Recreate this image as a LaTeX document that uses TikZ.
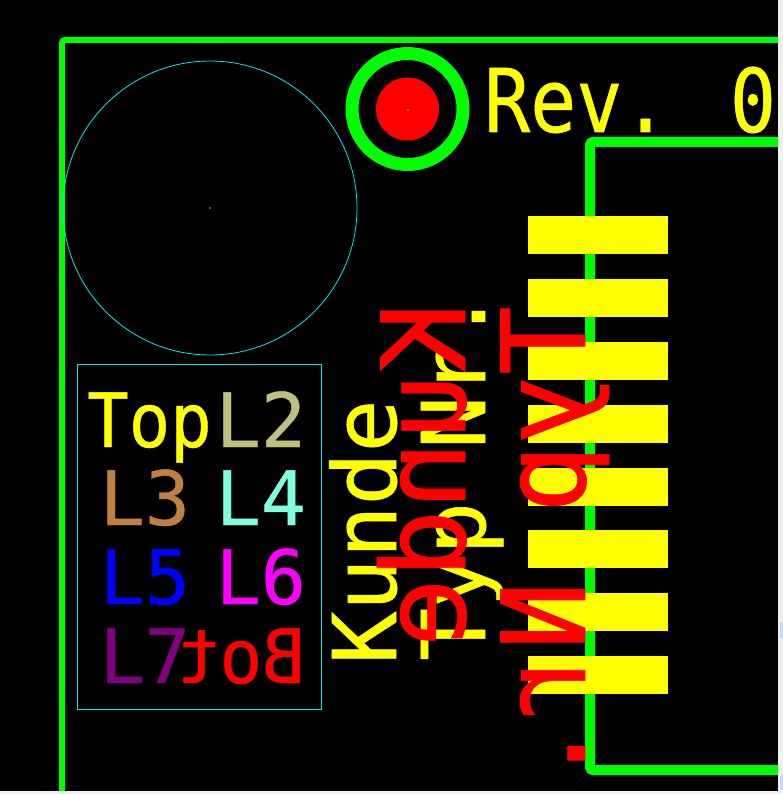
\documentclass[tikz,border=0pt]{standalone}
\usepackage{fontspec}
\newfontfamily\pcbfont{DejaVu Sans Mono}[FakeBold=0.6]
\definecolor{pcbyellow}{RGB}{255,255,0}
\definecolor{pcbgreen}{RGB}{0,255,0}
\definecolor{pcbred}{RGB}{255,0,0}
\definecolor{pcbblue}{RGB}{0,0,255}
\definecolor{pcbmagenta}{RGB}{255,0,255}
\definecolor{layertan}{HTML}{C0C080}
\definecolor{layerbrown}{HTML}{C08040}
\definecolor{layeraqua}{HTML}{80FFE0}
\definecolor{layerpurple}{HTML}{800080}
\definecolor{pcbcyan}{HTML}{00E8F0}
\definecolor{pagegrey}{HTML}{F2F0EA}
\definecolor{barblue}{HTML}{C8D8F8}
\tikzset{
  pcbtext/.style={inner sep=0pt, anchor=base west, font=\pcbfont\fontsize{88}{88}\selectfont},
  layertext/.style={inner sep=0pt, anchor=base west, font=\pcbfont\fontsize{75}{75}\selectfont},
  bottomtext/.style={inner sep=0pt, anchor=base west, text=pcbred, rotate=-90, yscale=-1, xscale=0.985, font=\pcbfont\fontsize{116}{116}\selectfont},
  outline/.style={draw=pcbgreen, line width=#1, rounded corners=3pt},
  padrect/.style={fill=pcbyellow}
}
\begin{document}
\begin{tikzpicture}[x=1pt,y=-1pt]
  \useasboundingbox (0,0) rectangle (783,794);
  \fill[pagegrey] (0,0) rectangle (783,794);
  \fill[black] (0,0) rectangle (778,791);
  \fill[barblue] (780,622) rectangle (783,638);
  \fill[barblue] (780,775) rectangle (783,790);
  % board and connector outline
  \draw[outline=6pt] (778,40) -- (62,40) -- (62,791);
  \draw[outline=10pt] (778,142) -- (590,142) -- (590,770) -- (778,770);
  % mounting hole and drill circle
  \draw[pcbcyan, line width=0.8pt] (210,208) circle [radius=147];
  \fill[pcbcyan] (210,208) circle [radius=0.8];
  \draw[pcbgreen, line width=13pt] (407.5,109) circle [radius=55.5];
  \fill[pcbred] (407.5,109) circle [radius=31.5];
  \fill[pcbcyan] (408,110) circle [radius=0.8];
  % pads
  \foreach \padtop in {216,279,342,405,468,530,593,656}
    \fill[padrect] (528,\padtop) rectangle (668,\padtop+38);
  % layer legend
  \draw[pcbcyan, line width=0.8pt] (77.5,364.5) rectangle (321.3,709.3);
  \node[layertext, text=pcbyellow, xscale=0.92] (top) at (87,447) {Top};
  \node[layertext, text=layertan] (ltwo) at (215.5,447) {L2};
  \node[layertext, text=layerbrown] (lthree) at (99.5,525) {L3};
  \node[layertext, text=layeraqua] (lfour) at (215.5,525) {L4};
  \node[layertext, text=pcbblue] (lfive) at (99.5,604) {L5};
  \node[layertext, text=pcbmagenta] (lsix) at (215.5,604) {L6};
  \node[layertext, text=layerpurple] (lseven) at (99.5,683) {L7};
  \node[layertext, text=pcbred, xscale=-0.95] (bot) at (305.5,683) {Bot};
  % top side texts
  \node[pcbtext, text=pcbyellow, xscale=0.87] (rev) at (484,132) {Rev. 0};
  \node[pcbtext, text=pcbyellow, rotate=90] (kundetop) at (396,664.5) {Kunde};
  \node[pcbtext, text=pcbyellow, rotate=90] (typtop) at (485,661) {Typ Nr.};
  % bottom side texts, mirrored
  \node[bottomtext] (kundebot) at (465,303) {Kunde};
  \node[bottomtext] (typbot) at (585,306) {Typ Nr.};
\end{tikzpicture}
\end{document}
